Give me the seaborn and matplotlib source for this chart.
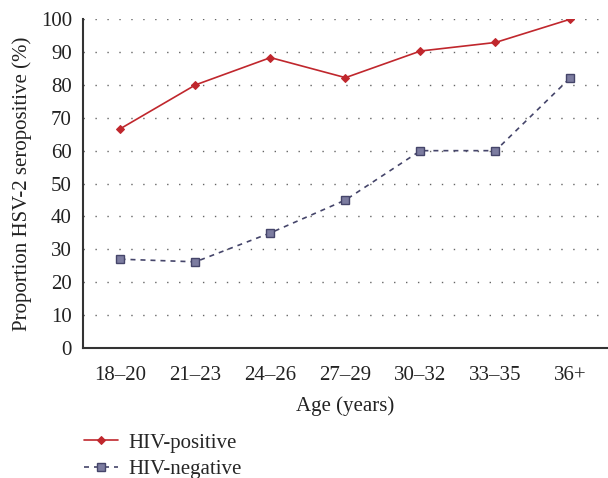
import numpy as np
import pandas as pd
import matplotlib
matplotlib.use("Agg")
import matplotlib.pyplot as plt
import seaborn as sns
from matplotlib.ticker import FixedLocator

ages = ["18–20", "21–23", "24–26", "27–29", "30–32", "33–35", "36+"]
hiv_pos = [66.7, 80.0, 88.3, 82.2, 90.3, 92.9, 100.0]
hiv_neg = [27.0, 26.2, 35.0, 45.0, 60.0, 60.0, 82.2]

sns.set_style("white")
plt.rcParams['font.family'] = ['Liberation Serif', 'DejaVu Serif']

df = pd.DataFrame({
    "x": list(range(len(ages))) * 2,
    "val": hiv_pos + hiv_neg,
    "grp": ["HIV-positive"] * len(ages) + ["HIV-negative"] * len(ages),
})

fig = plt.figure(figsize=(6.08, 4.78), dpi=100)
ax = fig.add_axes([0.1365, 0.272, 0.8635, 0.688])

red = "#c0272d"
navy = "#45456a"
fs = 15

sns.lineplot(data=df[df.grp == "HIV-positive"], x="x", y="val", ax=ax, color=red,
             lw=1.2, marker="D", markersize=4, markeredgecolor=red,
             label="HIV-positive")
sns.lineplot(data=df[df.grp == "HIV-negative"], x="x", y="val", ax=ax, color=navy,
             lw=1.2, marker="s", markersize=5.5, markerfacecolor="#7c7ca0",
             markeredgecolor=navy, markeredgewidth=1.0,
             label="HIV-negative")
ax.lines[1].set_linestyle((0, (6, 4.5)))

ax.set_xlim(-0.5, 6.5)
ax.set_ylim(0, 100)
ax.set_yticks(np.arange(0, 101, 10))
ax.set_xticks(range(len(ages)))
ax.set_xticklabels(ages)
ax.xaxis.set_minor_locator(FixedLocator(np.arange(-0.5, 7, 1)))
ax.tick_params(axis="x", which="major", length=0, labelsize=fs, pad=13, colors="#222222")
ax.tick_params(axis="x", which="minor", length=5, width=1.2, color="#333333", direction="out")
ax.tick_params(axis="y", length=5, width=1.2, color="#333333", labelsize=fs,
               direction="out", pad=3, labelcolor="#222222")

ax.grid(axis="y", linestyle=(0, (1, 7.6)), color="#666666", lw=1.0)
ax.set_axisbelow(True)
for s in ["top", "right"]:
    ax.spines[s].set_visible(False)
for s in ["left", "bottom"]:
    ax.spines[s].set_color("#333333")
    ax.spines[s].set_linewidth(1.5)

ax.set_xlabel("Age (years)", fontsize=fs, labelpad=8, color="#222222")
ax.set_ylabel("Proportion HSV-2 seropositive (%)", fontsize=fs, labelpad=6, color="#222222")

ax.legend_.remove()
handles, labels = ax.get_legend_handles_labels()
handles[1].set_linestyle((0, (3, 3)))
fig.legend(handles, labels, loc="upper left", bbox_to_anchor=(0.138, 0.094),
           frameon=False, fontsize=fs, handlelength=1.65, handletextpad=0.5,
           labelspacing=0.33, borderpad=0, borderaxespad=0)

fig.savefig("out.png", dpi=100)
